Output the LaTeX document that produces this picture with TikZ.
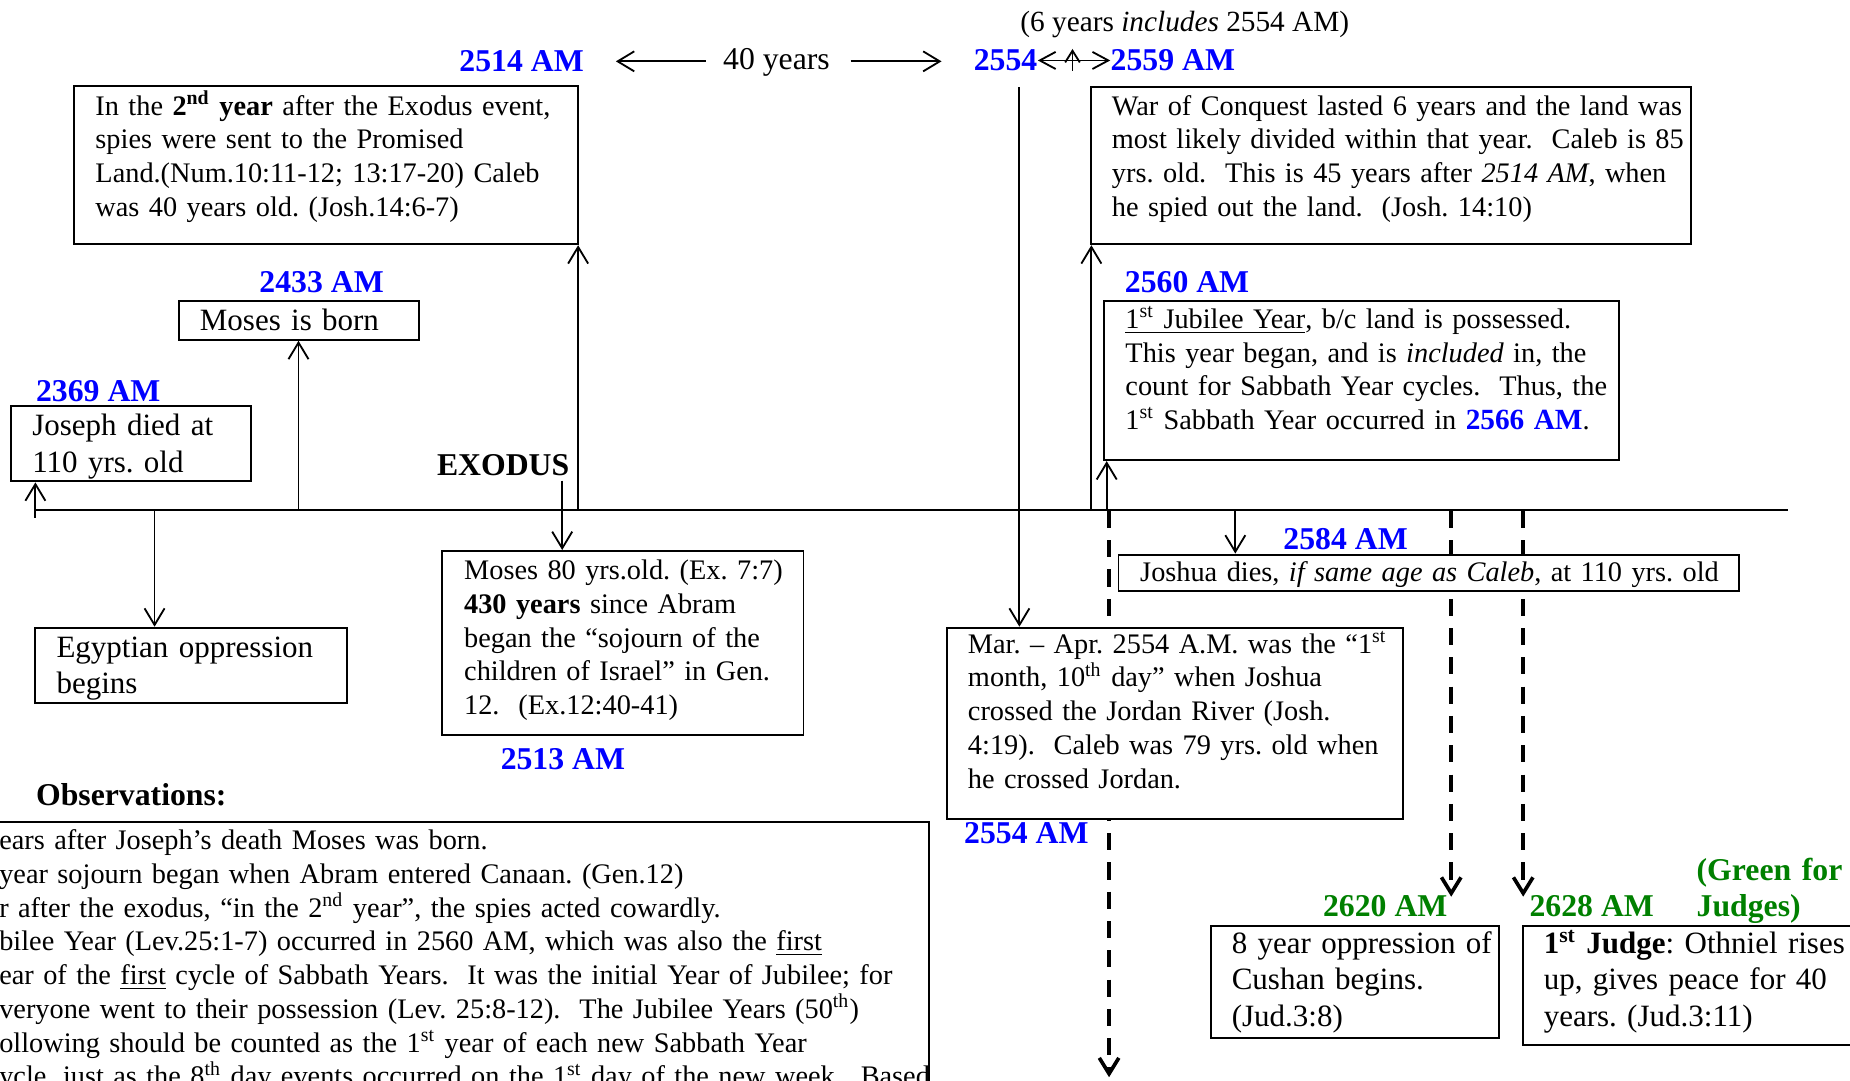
\documentclass[tikz,border=0pt]{standalone}
\usepackage{fontspec}
\setmainfont{Liberation Serif}
\usetikzlibrary{arrows.meta,fit}
\definecolor{amblue}{RGB}{0,0,255}
\definecolor{judgegreen}{RGB}{0,128,0}
\newcommand{\fsA}{\fontsize{11.6}{13.8}\selectfont}
\newcommand{\fsB}{\fontsize{12.7}{14.95}\selectfont}
\newcommand{\fsC}{\fontsize{12}{13.8}\selectfont}
\newcommand{\fsL}{\fontsize{13}{14.95}\selectfont}
\frenchspacing
\begin{document}
\begin{tikzpicture}[x=0.4833pt,y=-0.4833pt,
  bx/.style={draw, line width=0.8pt, inner sep=0pt, fill=white},
  tA/.style={anchor=base west, inner sep=0pt, align=left, text width=560pt, font=\fsA},
  tB/.style={anchor=base west, inner sep=0pt, align=left, text width=560pt, font=\fsB},
  lab/.style={anchor=base west, inner sep=0pt, font=\fsL\bfseries, text=amblue},
  glab/.style={anchor=base west, inner sep=0pt, font=\fsL\bfseries, text=judgegreen},
  arr/.style={line width=0.75pt, -{Straight Barb[length=6.8pt,width=8.2pt]}},
  sarr/.style={line width=0.75pt, -{Straight Barb[length=4.8pt,width=6pt]}},
  darr/.style={line width=0.75pt, {Straight Barb[length=6.5pt,width=7pt]}-{Straight Barb[length=6.5pt,width=7pt]}},
  dsh/.style={line width=1.5pt, dash pattern=on 7pt off 5pt, -{Straight Barb[length=6.5pt,width=8pt,line width=1.5pt]}}
]
\useasboundingbox (0,0) rectangle (1568,915.4);
\fill[white] (0,0) rectangle (1568,915.4);
\clip (0,0) rectangle (1568,915.4);

% timeline
\coordinate (tl0) at (30,432);
\coordinate (tl1) at (1515,432);
\draw[line width=0.8pt] (tl0) -- (tl1);

% dashed connectors (behind boxes)
\coordinate (d940a) at (940,433);
\coordinate (d940b) at (940,913);
\coordinate (d1230a) at (1230,433);
\coordinate (d1230b) at (1230,760);
\coordinate (d1291a) at (1291,433);
\coordinate (d1291b) at (1291,760);
\draw[dsh] (d940a) -- (d940b);
\draw[dsh] (d1230a) -- (d1230b);
\draw[dsh] (d1291a) -- (d1291b);

% boxes
\node[bx, fit={(63,73) (490,207)}] (box1) {};
\node[bx, fit={(925,74) (1433,207)}] (war) {};
\node[bx, fit={(152,255) (355,288)}] (moses) {};
\node[bx, fit={(9.5,344) (213,408)}] (joseph) {};
\node[bx, fit={(936,255) (1372.5,390)}] (jubilee) {};
\node[bx, fit={(30,532) (294,596)}] (egypt) {};
\node[bx, fit={(375,467) (681,623)}] (exo80) {};
\node[bx, fit={(948,470) (1474,500.5)}] (joshua) {};
\node[bx, fit={(803,532) (1189,694)}] (mar) {};
\node[bx, fit={(-10,697) (787,960)}] (obs) {};
\node[bx, fit={(1026.5,784.5) (1270.5,879.5)}] (cushan) {};
\node[bx, fit={(1290.5,784.5) (1600,886)}] (othniel) {};

% box texts
\node[tA] (box1t) at (80.5,97.5) {In the \textbf{2\textsuperscript{nd} year} after the Exodus event,\\
spies were sent to the Promised\\
Land.(Num.10:11-12; 13:17-20) Caleb\\
was 40 years old. (Josh.14:6-7)};
\node[tA] (wart) at (942,97.5) {War of Conquest lasted 6 years and the land was\\
most likely divided within that year.\ \ Caleb is 85\\
yrs. old.\ \ This is 45 years after \textit{2514 AM}, when\\
he spied out the land.\ \ (Josh. 14:10)};
\node[tB] (mosest) at (169,280.2) {Moses is born};
\node[tB] (josepht) at (27,369.5) {Joseph died at\\110 yrs. old};
\node[tA] (jubileet) at (953.5,278.3) {\underline{1\textsuperscript{st} Jubilee Year}, b/c land is possessed.\\
This year began, and is \textit{included} in, the\\
count for Sabbath Year cycles.\ \ Thus, the\\
1\textsuperscript{st} Sabbath Year occurred in \textcolor{amblue}{\fsC\textbf{2566 AM}}.};
\node[tB] (egyptt) at (47.5,557) {Egyptian oppression\\begins};
\node[tA] (exo80t) at (393,491.5) {Moses 80 yrs.old. (Ex. 7:7)\\
\textbf{430 years} since Abram\\
began the “sojourn of the\\
children of Israel” in Gen.\\
12.\ \ (Ex.12:40-41)};
\node[tA] (joshuat) at (966,493) {Joshua dies, \textit{if same age as Caleb}, at 110 yrs. old};
\node[tA] (mart) at (820,553.7) {Mar. – Apr. 2554 A.M. was the “1\textsuperscript{st}\\
month, 10\textsuperscript{th} day” when Joshua\\
crossed the Jordan River (Josh.\\
4:19).\ \ Caleb was 79 yrs. old when\\
he crossed Jordan.};
\node[tA] (obst) at (-1,720.3) {ears after Joseph’s death Moses was born.\\
year sojourn began when Abram entered Canaan. (Gen.12)\\
r after the exodus, “in the 2\textsuperscript{nd} year”, the spies acted cowardly.\\
bilee Year (Lev.25:1-7) occurred in 2560 AM, which was also the \underline{first}\\
ear of the \underline{first} cycle of Sabbath Years.\ \ It was the initial Year of Jubilee; for\\
veryone went to their possession (Lev. 25:8-12).\ \ The Jubilee Years (50\textsuperscript{th})\\
ollowing should be counted as the 1\textsuperscript{st} year of each new Sabbath Year\\
ycle, just as the 8\textsuperscript{th} day events occurred on the 1\textsuperscript{st} day of the new week.\ \ Based};
\node[tB] (cushant) at (1043.6,808) {8 year oppression of\\Cushan begins.\\(Jud.3:8)};
\node[tB] (othnielt) at (1308,808) {\textbf{1\textsuperscript{st} Judge}: Othniel rises\\up, gives peace for 40\\years. (Jud.3:11)};

% labels
\node[lab] (l2514) at (389,60.2) {2514 AM};
\node[anchor=base west, inner sep=0pt, font=\fsL] (forty) at (612.5,59.3) {40 years};
\node[lab] (l2554) at (825,60) {2554};
\node[lab] (l2559) at (941,60) {2559 AM};
\node[anchor=base west, inner sep=0pt, font=\fsC] (six) at (864.5,27) {(6 years \textit{includes} 2554 AM)};
\node[lab] (l2433) at (219.5,247.8) {2433 AM};
\node[lab] (l2369) at (30.2,340.4) {2369 AM};
\node[anchor=base west, inner sep=0pt, font=\fsL\bfseries] (exodus) at (370,402.6) {EXODUS};
\node[lab] (l2560) at (953,247.8) {2560 AM};
\node[lab] (l2584) at (1087.4,465.6) {2584 AM};
\node[lab] (l2513) at (424,652.5) {2513 AM};
\node[anchor=base west, inner sep=0pt, font=\fsL\bfseries] (obsh) at (30.2,683) {Observations:};
\node[lab] (l2554b) at (816.8,714.7) {2554 AM};
\node[glab] (l2620) at (1121,777) {2620 AM};
\node[glab] (l2628) at (1296,777) {2628 AM};
\node[glab, align=left, text width=120pt] (gnote) at (1437.6,746) {(Green for\\Judges)};

% solid connectors
\coordinate (tJ) at (30,439);
\coordinate (tE) at (131,432);
\coordinate (tM) at (253,432);
\coordinate (tX) at (476.5,432);
\coordinate (t490) at (490,432);
\coordinate (top2554) at (864,74);
\coordinate (t925) at (925,432);
\coordinate (t938) at (938,432);
\coordinate (t1047) at (1047,432);
\draw[arr] (tJ) -- (tJ |- joseph.south);
\draw[arr] (tE) -- (tE |- egypt.north);
\draw[arr] (tM) -- (tM |- moses.south);
\draw[arr] ([yshift=-2pt]tX |- exodus.south) -- (tX |- exo80.north);
\draw[arr] (t490) -- (t490 |- box1.south);
\draw[arr] (top2554) -- (top2554 |- mar.north);
\draw[arr] (t925) -- (t925 |- war.south);
\draw[arr] (t938) -- (t938 |- jubilee.south);
\draw[arr] (t1047) -- (t1047 |- joshua.north);

% top arrows
\coordinate (a40a) at (598,52);
\coordinate (a40b) at (522,52);
\coordinate (a40c) at (721,52);
\coordinate (a40d) at (798,52);
\draw[arr] (a40a) -- (a40b);
\draw[arr] (a40c) -- (a40d);
\draw[darr] (l2554.east) -- (l2559.west);
\coordinate (s1) at (909,60);
\coordinate (s2) at (909,41.5);
\draw[sarr] (s1) -- (s2);
\end{tikzpicture}
\end{document}
